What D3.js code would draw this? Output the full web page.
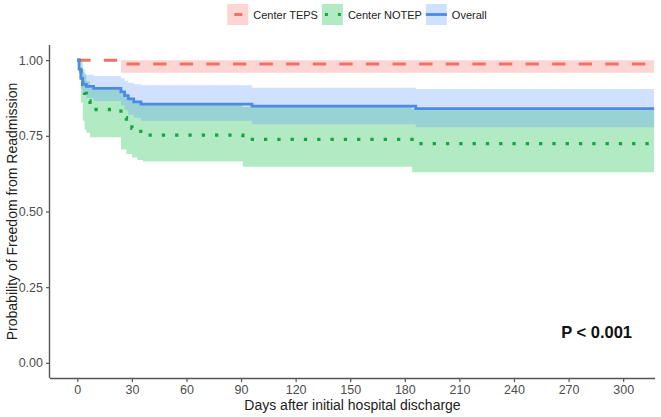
<!DOCTYPE html>
<html>
<head>
<meta charset="utf-8">
<script src="https://cdn.jsdelivr.net/npm/d3@7"></script>
<style>
  html, body { margin: 0; padding: 0; background: #fff; }
  svg { display: block; font-family: "Liberation Sans", Arial, sans-serif; }
</style>
</head>
<body>
<svg id="chart" width="661" height="417"></svg>
<script>
// ---- Data ----
const seriesNames = ["Center TEPS", "Center NOTEP", "Overall"];

const tepsTime  = [0, 24, 317];
const tepsSurv  = [1, 0.987, 0.987];
const tepsUpper = [1, 1, 1];
const tepsLower = [1, 0.958, 0.958];

const notepTime  = [0, 2, 3, 4, 5, 7, 24, 27, 30, 33, 36, 91, 184, 317];
const notepSurv  = [1, 0.95, 0.92, 0.89, 0.865, 0.837, 0.81, 0.79, 0.775, 0.765, 0.752, 0.738, 0.724, 0.724];
const notepUpper = [1, 1, 0.97, 0.95, 0.93, 0.91, 0.89, 0.875, 0.865, 0.86, 0.853, 0.845, 0.838, 0.838];
const notepLower = [1, 0.86, 0.80, 0.77, 0.76, 0.745, 0.705, 0.69, 0.678, 0.67, 0.665, 0.648, 0.63, 0.63];

const overallTime  = [0, 1, 2, 3, 5, 9, 24, 26, 28, 31, 35, 96, 186, 317];
const overallSurv  = [1, 0.97, 0.94, 0.92, 0.913, 0.907, 0.895, 0.883, 0.872, 0.862, 0.855, 0.848, 0.84, 0.84];
const overallUpper = [1, 1, 0.975, 0.958, 0.952, 0.948, 0.94, 0.932, 0.925, 0.92, 0.917, 0.909, 0.905, 0.905];
const overallLower = [1, 0.94, 0.905, 0.885, 0.875, 0.865, 0.85, 0.835, 0.82, 0.81, 0.80, 0.788, 0.778, 0.778];

const xTicks = [0, 30, 60, 90, 120, 150, 180, 210, 240, 270, 300];
const yTicks = [0, 0.25, 0.5, 0.75, 1.0];
const pLabel = "P < 0.001";
const xTitle = "Days after initial hospital discharge";
const yTitle = "Probability of Freedom from Readmission";

// ---- Layout ----
const svg = d3.select("#chart");
const pLeft = 50, pRight = 655, pTop = 45, pBottom = 378;

const x = d3.scaleLinear().domain([-15, 317.5]).range([pLeft, pRight]);
const y = d3.scaleLinear().domain([-0.05, 1.05]).range([pBottom, pTop]);

const colors = { teps: "#F8766D", notep: "#00BA38", overall: "#619CFF" };
const lineColors = { teps: "#F07068", notep: "#17A544", overall: "#4C8AE6" };

function pts(t, v) { return t.map((d, i) => ({ t: d, v: v[i] })); }
function band(t, lo, hi) { return t.map((d, i) => ({ t: d, lo: lo[i], hi: hi[i] })); }

const area = d3.area().curve(d3.curveStepAfter)
  .x(d => x(d.t)).y0(d => y(d.lo)).y1(d => y(d.hi));
const line = d3.line().curve(d3.curveStepAfter)
  .x(d => x(d.t)).y(d => y(d.v));

const series = [
  { key: "teps", t: tepsTime, s: tepsSurv, lo: tepsLower, hi: tepsUpper, dash: "13.3,13.3", w: 3 },
  { key: "notep", t: notepTime, s: notepSurv, lo: notepLower, hi: notepUpper, dash: "3.3,10", w: 3.3 },
  { key: "overall", t: overallTime, s: overallSurv, lo: overallLower, hi: overallUpper, dash: null, w: 2.8 }
];

const g = svg.append("g");
series.forEach(sr => {
  g.append("path").datum(band(sr.t, sr.lo, sr.hi))
    .attr("d", area).attr("fill", colors[sr.key]).attr("fill-opacity", 0.3);
});
series.forEach(sr => {
  const p = g.append("path").datum(pts(sr.t, sr.s))
    .attr("d", line).attr("fill", "none")
    .attr("stroke", lineColors[sr.key]).attr("stroke-width", sr.w);
  if (sr.dash) p.attr("stroke-dasharray", sr.dash);
});

// ---- Axes ----
const axisColor = "#555";
const tickTextColor = "#4D4D4D";

const xAxis = svg.append("g").attr("transform", `translate(0,${pBottom})`)
  .call(d3.axisBottom(x).tickValues(xTicks).tickSize(4).tickPadding(3).tickFormat(d3.format("d")));
xAxis.select(".domain").attr("d", `M${pLeft},0.5H${pRight}`).attr("stroke", axisColor).attr("stroke-width", 1.4);
xAxis.selectAll(".tick line").attr("stroke", axisColor).attr("stroke-width", 1.2);
xAxis.selectAll(".tick text").attr("fill", tickTextColor).attr("font-size", 12.5)
  .attr("font-family", "Liberation Sans, Arial, sans-serif");

const yAxis = svg.append("g").attr("transform", `translate(${pLeft},0)`)
  .call(d3.axisLeft(y).tickValues(yTicks).tickSize(4).tickPadding(3).tickFormat(d3.format(".2f")));
yAxis.select(".domain").attr("d", `M-0.5,${pTop}V${pBottom}`).attr("stroke", axisColor).attr("stroke-width", 1.4);
yAxis.selectAll(".tick line").attr("stroke", axisColor).attr("stroke-width", 1.2);
yAxis.selectAll(".tick text").attr("fill", tickTextColor).attr("font-size", 12.5)
  .attr("font-family", "Liberation Sans, Arial, sans-serif");

svg.append("text").attr("x", (pLeft + pRight) / 2).attr("y", 410)
  .attr("text-anchor", "middle").attr("font-size", 14).attr("fill", "#222").text(xTitle);

svg.append("text").attr("transform", `translate(17,${(pTop + pBottom) / 2}) rotate(-90)`)
  .attr("text-anchor", "middle").attr("font-size", 14).attr("fill", "#222").text(yTitle);

svg.append("text").attr("x", 632).attr("y", 338).attr("text-anchor", "end")
  .attr("font-size", 16.5).attr("font-weight", "bold").attr("fill", "#111").text(pLabel);

// ---- Legend ----
const legend = svg.append("g");
const keyW = 21, keyH = 21, keyTop = 4, textGap = 5, itemGap = 4;
let lx = 0;
series.forEach((sr, i) => {
  const it = legend.append("g").attr("transform", `translate(${lx},0)`);
  it.append("rect").attr("x", 0).attr("y", keyTop).attr("width", keyW).attr("height", keyH)
    .attr("fill", colors[sr.key]).attr("fill-opacity", 0.3);
  const cy = keyTop + keyH / 2;
  if (sr.key === "teps") {
    it.append("line").attr("x1", 7).attr("x2", 15).attr("y1", cy).attr("y2", cy)
      .attr("stroke", lineColors.teps).attr("stroke-width", 3);
  } else if (sr.key === "notep") {
    it.append("line").attr("x1", 3).attr("x2", 20).attr("y1", cy).attr("y2", cy)
      .attr("stroke", lineColors.notep).attr("stroke-width", 3).attr("stroke-dasharray", "3,10");
  } else {
    it.append("line").attr("x1", 0).attr("x2", keyW).attr("y1", cy).attr("y2", cy)
      .attr("stroke", lineColors.overall).attr("stroke-width", 2.8);
  }
  const tx = it.append("text").attr("x", keyW + textGap).attr("y", cy + 4)
    .attr("font-size", 11).attr("fill", "#222").text(seriesNames[i]);
  lx += keyW + textGap + tx.node().getComputedTextLength() + itemGap;
});
const legendW = lx - itemGap;
legend.attr("transform", `translate(${226 + (262 - legendW) / 2},0)`);
</script>
</body>
</html>
